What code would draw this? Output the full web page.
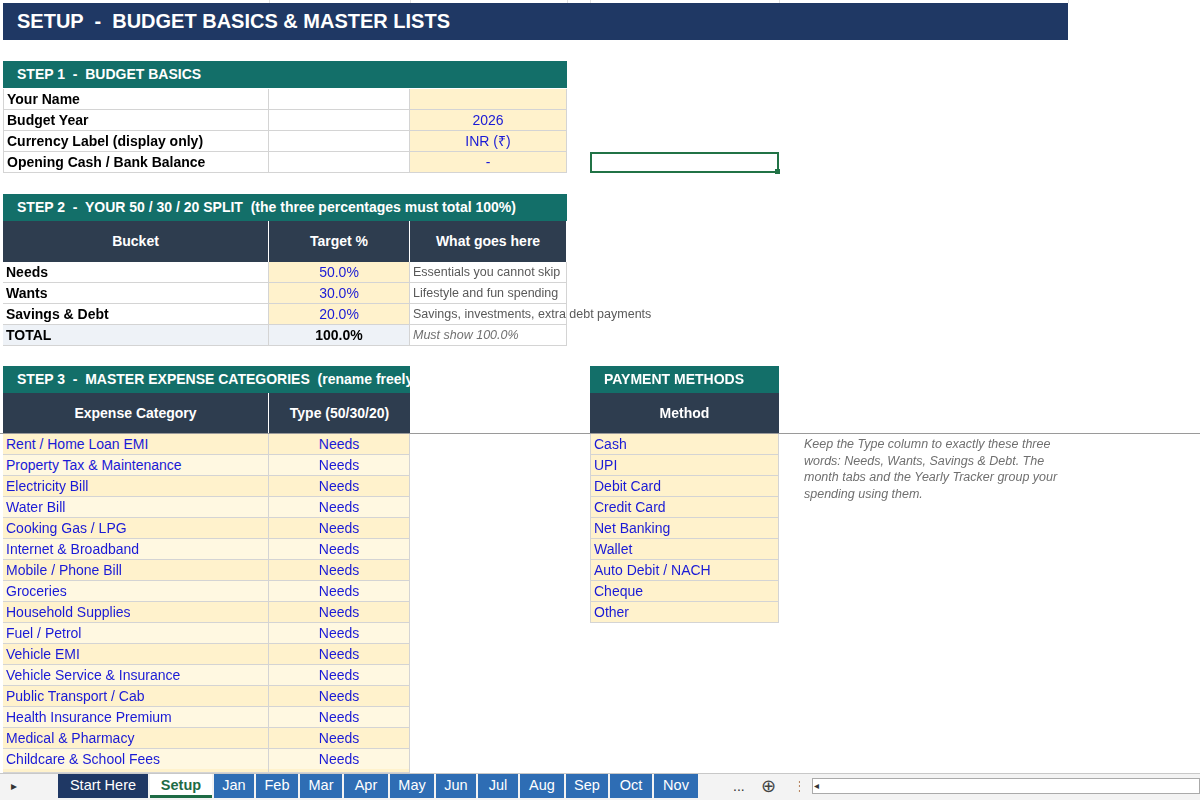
<!DOCTYPE html>
<html><head><meta charset="utf-8">
<script src="https://cdn.jsdelivr.net/npm/chart.js@4"></script>
<style>
body{margin:0;width:1200px;height:800px;background:#fff;font-family:Arial,"Liberation Sans",sans-serif;overflow:hidden;position:relative}
.c{position:absolute;box-sizing:border-box;font-size:14px;line-height:20px;white-space:pre;overflow:hidden;padding:0 3px}
.b{border-right:1px solid #d4d4d4;border-bottom:1px solid #d4d4d4}
#grid{position:absolute;left:0;top:0}
</style></head><body>
<canvas id="grid" width="1200" height="800"></canvas>
<div id="root"></div>
<script>
const sheetTitle="SETUP  -  BUDGET BASICS & MASTER LISTS";
const basicsLabels=["Your Name","Budget Year","Currency Label (display only)","Opening Cash / Bank Balance"];
const basicsValues=["","2026","INR (₹)","-"];
const buckets=["Needs","Wants","Savings & Debt"];
const targets=[50.0,30.0,20.0];
const bucketNotes=["Essentials you cannot skip","Lifestyle and fun spending","Savings, investments, extra debt payments"];
const categories=["Rent / Home Loan EMI","Property Tax & Maintenance","Electricity Bill","Water Bill","Cooking Gas / LPG","Internet & Broadband","Mobile / Phone Bill","Groceries","Household Supplies","Fuel / Petrol","Vehicle EMI","Vehicle Service & Insurance","Public Transport / Cab","Health Insurance Premium","Medical & Pharmacy","Childcare & School Fees"];
const catTypes=categories.map(()=> "Needs");
const methods=["Cash","UPI","Debit Card","Credit Card","Net Banking","Wallet","Auto Debit / NACH","Cheque","Other"];
const tabs=["Start Here","Setup","Jan","Feb","Mar","Apr","May","Jun","Jul","Aug","Sep","Oct","Nov"];

const g=document.getElementById('grid').getContext('2d');
g.strokeStyle="#e1e1e1";g.lineWidth=1;
[269,410,567,590,779,1068,1200].forEach(x=>{g.beginPath();g.moveTo(x+.5,0);g.lineTo(x+.5,3);g.stroke();});
g.strokeStyle="#9a9a9a";g.beginPath();g.moveTo(0,433.5);g.lineTo(1200,433.5);g.stroke();

const R=document.getElementById('root');
function cell(x,y,w,h,txt,st){const d=document.createElement('div');d.className='c '+(st.cls||'');d.style.cssText=`left:${x}px;top:${y}px;width:${w}px;height:${h}px;line-height:${h}px;`+(st.css||'');d.textContent=txt;R.appendChild(d);return d;}
const A=[3,269],B=[269,410],C=[410,567];
const cream="#FFF2CC",teal="#136F69",slate="#2E3D4F",navy="#1F3864";
cell(3,3,1065,37,sheetTitle,{css:`background:${navy};color:#fff;font-weight:bold;font-size:20px;padding-left:14px`});
cell(3,61,564,27,"STEP 1  -  BUDGET BASICS",{css:`background:${teal};color:#fff;font-weight:bold;padding-left:14px`});
basicsLabels.forEach((l,i)=>{const y=89+i*21;
 cell(3,y,266,21,l,{cls:'b',css:'font-weight:bold;border-left:1px solid #d4d4d4'});
 cell(269,y,141,21,"",{cls:'b'});
 cell(410,y,157,21,basicsValues[i],{cls:'b',css:`background:${cream};color:#1a1ad6;text-align:center`});});
cell(590,152,189,21,"",{css:'border:2px solid #217346'});
cell(775,169,5,5,"",{css:'background:#217346;padding:0'});
cell(3,194,564,27,"STEP 2  -  YOUR 50 / 30 / 20 SPLIT  (the three percentages must total 100%)",{css:`background:${teal};color:#fff;font-weight:bold;padding-left:14px`});
[["Bucket",A],["Target %",B],["What goes here",C]].forEach(([t,c])=>cell(c[0],221,c[1]-c[0],41,t,{css:`background:${slate};color:#fff;font-weight:bold;text-align:center;border-right:1px solid #fff`}));
buckets.forEach((b,i)=>{const y=262+i*21;
 cell(3,y,266,21,b,{cls:'b',css:'font-weight:bold'});
 cell(269,y,141,21,targets[i].toFixed(1)+"%",{cls:'b',css:`background:${cream};color:#1a1ad6;text-align:center`});
 cell(410,y,157,21,bucketNotes[i],{cls:'b',css:'color:#595959;font-size:12.5px;overflow:visible'});});
const tot=targets.reduce((a,b)=>a+b,0);
cell(3,325,266,21,"TOTAL",{cls:'b',css:'font-weight:bold;background:#EEF2F7'});
cell(269,325,141,21,tot.toFixed(1)+"%",{cls:'b',css:'font-weight:bold;text-align:center;background:#EEF2F7'});
cell(410,325,157,21,"Must show 100.0%",{cls:'b',css:'color:#6f6f6f;font-style:italic;font-size:12.5px'});
cell(3,366,407,27,"STEP 3  -  MASTER EXPENSE CATEGORIES  (rename freely)",{css:`background:${teal};color:#fff;font-weight:bold;padding-left:14px`});
cell(590,366,189,27,"PAYMENT METHODS",{css:`background:${teal};color:#fff;font-weight:bold;padding-left:14px`});
cell(3,393,266,40,"Expense Category",{css:`background:${slate};color:#fff;font-weight:bold;text-align:center;border-right:1px solid #fff`});
cell(269,393,141,40,"Type (50/30/20)",{css:`background:${slate};color:#fff;font-weight:bold;text-align:center`});
cell(590,393,189,40,"Method",{css:`background:${slate};color:#fff;font-weight:bold;text-align:center`});
categories.forEach((c,i)=>{const y=434+i*21;const bg=i%2?"#FFF8E1":cream;
 cell(3,y,266,21,c,{cls:'b',css:`background:${bg};color:#1a1ad6`});
 cell(269,y,141,21,catTypes[i],{cls:'b',css:`background:${bg};color:#1a1ad6;text-align:center`});});
cell(3,769,266,4,"",{cls:'b',css:`background:${cream}`});cell(269,769,141,4,"",{cls:'b',css:`background:${cream}`});
methods.forEach((m,i)=>{const y=434+i*21;cell(590,y,189,21,m,{cls:'b',css:`background:${cream};color:#1a1ad6;border-left:1px solid #d4d4d4`});});
const note=cell(801,436,262,70,"",{css:'white-space:normal;color:#6f6f6f;font-style:italic;font-size:12.5px;line-height:16.5px'});
note.textContent="Keep the Type column to exactly these three words: Needs, Wants, Savings & Debt. The month tabs and the Yearly Tracker group your spending using them.";
cell(0,773,1200,27,"",{css:'background:#f3f3f3;border-top:1px solid #c8c8c8'});
cell(8,776,12,20,"▸",{css:'color:#333;font-size:12px'});
let x=58;const widths=[90,62,40,42,42,44,44,40,40,44,42,42,44];
tabs.forEach((t,i)=>{const w=widths[i];cell(x,774,w,24,t,{css:(i==1?'background:#fff;color:#1e6b45;font-weight:bold;border-bottom:3px solid #1e6b45;':`background:${i==0?navy:'#2E6DB4'};color:#fff;`)+'text-align:center;font-size:14.5px;line-height:22px'});x+=w+2;});
cell(730,776,20,20,"...",{css:'color:#333'});
cell(758,776,22,20,"⊕",{css:'color:#444;font-size:18px'});
cell(790,776,10,20,"⋮",{css:'color:#666'});
cell(812,778,388,16,"",{css:'background:#fff;border:1px solid #aaa'});
cell(814,779,12,13,"◂",{css:'font-size:10px;line-height:13px;color:#333;padding:0'});
</script></body></html>
